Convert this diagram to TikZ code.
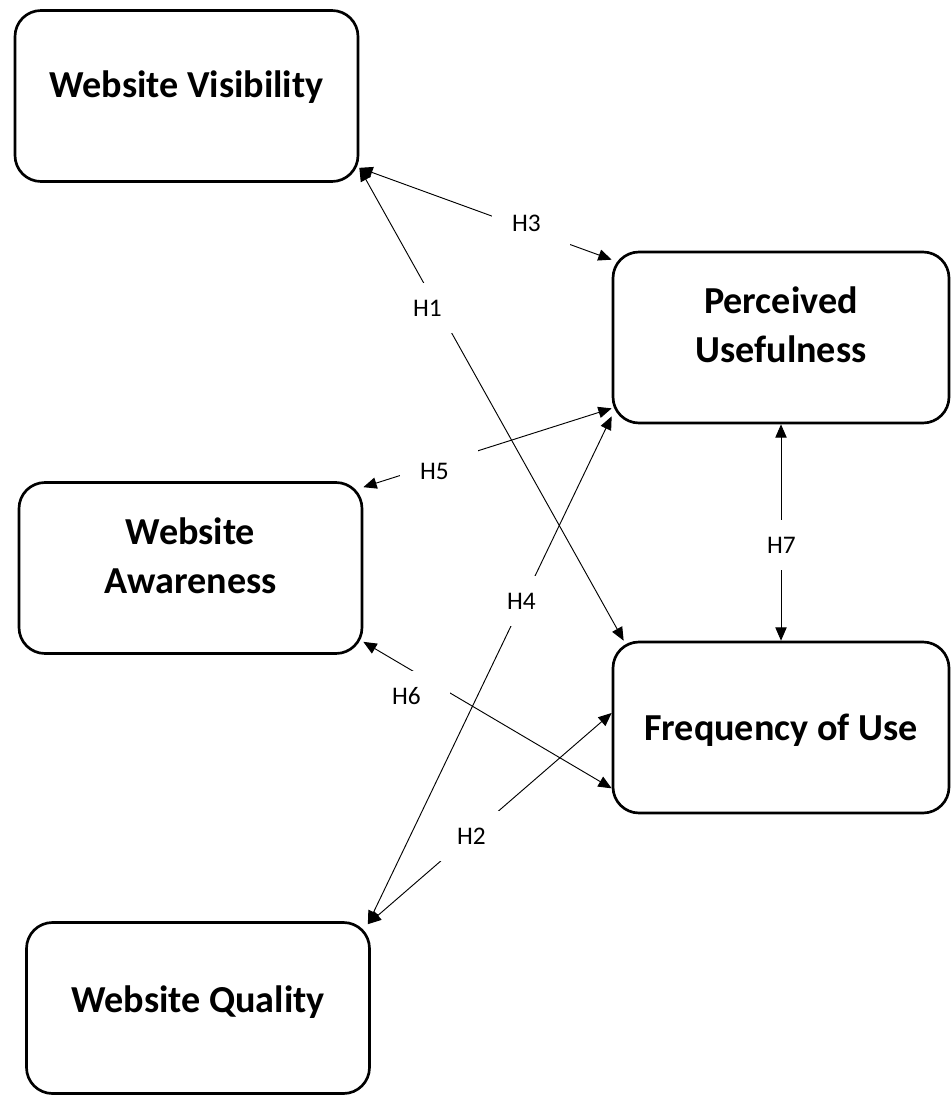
\documentclass[tikz,border=0pt]{standalone}
\usepackage{fontspec}
\setmainfont{Carlito}
\usetikzlibrary{arrows.meta}

\begin{document}
\begin{tikzpicture}[x=0.75pt, y=-0.75pt]
\tikzset{boite/.style={draw, line width=2pt, rounded corners=19.5pt, minimum width=257.25pt, minimum height=128.25pt, inner sep=0pt, align=center, font=\fontsize{28.6}{36.75}\selectfont\bfseries}}
\tikzset{hyp/.style={fill=white, font=\fontsize{19}{23}\selectfont, text width=28.5pt, inner xsep=15pt, inner ysep=7.5pt, text height=18pt, text depth=5pt, align=left}}
\tikzset{fleche/.style={{Triangle[length=10pt, width=8.5pt]}-{Triangle[length=10pt, width=8.5pt]}, line width=0.7pt}}
\useasboundingbox (0,0) rectangle (951,1095);
\node[boite, text height=31.5pt, text depth=28.5pt] (WV) at (186.5,96) {Website Visibility};
\node[boite, minimum width=252pt, text height=48.4pt, text depth=11.6pt] (PU) at (781,337.5) {Perceived\\Usefulness};
\node[boite, text height=48.75pt, text depth=11.25pt] (WA) at (190.5,568) {Website\\Awareness};
\node[boite, minimum width=252pt, text height=39.4pt, text depth=20.6pt] (FU) at (781,727.5) {Frequency of Use};
\node[boite, text height=33pt, text depth=27pt] (WQ) at (198,1008) {Website Quality};
\draw[fleche] ([yshift=11.25pt]WV.south east) -- ([yshift=-6.75pt]PU.north west);
\draw[fleche] ([yshift=11.25pt]WV.south east) -- ([xshift=9pt]FU.north west);
\draw[fleche] ([yshift=-4.5pt]WA.north east) -- ([yshift=12pt]PU.south west);
\draw[fleche] ([xshift=-2.25pt, yshift=-2.25pt]WQ.north east) -- ([yshift=6pt]PU.south west);
\draw[fleche] ([yshift=9.75pt]WA.south east) -- ([yshift=19.5pt]FU.south west);
\draw[fleche] ([xshift=-2.25pt, yshift=-2.25pt]WQ.north east) -- ([yshift=10.9pt]FU.west);
\draw[fleche] (PU.south) -- (FU.north);
\node[hyp] (H3) at (531,223) {H3};
\node[hyp] (H1) at (432,308) {H1};
\node[hyp] (H5) at (439,471) {H5};
\node[hyp] (H4) at (526,601) {H4};
\node[hyp] (H6) at (411,696) {H6};
\node[hyp] (H2) at (476,836) {H2};
\node[hyp] (H7) at (786,545) {H7};
\end{tikzpicture}
\end{document}
